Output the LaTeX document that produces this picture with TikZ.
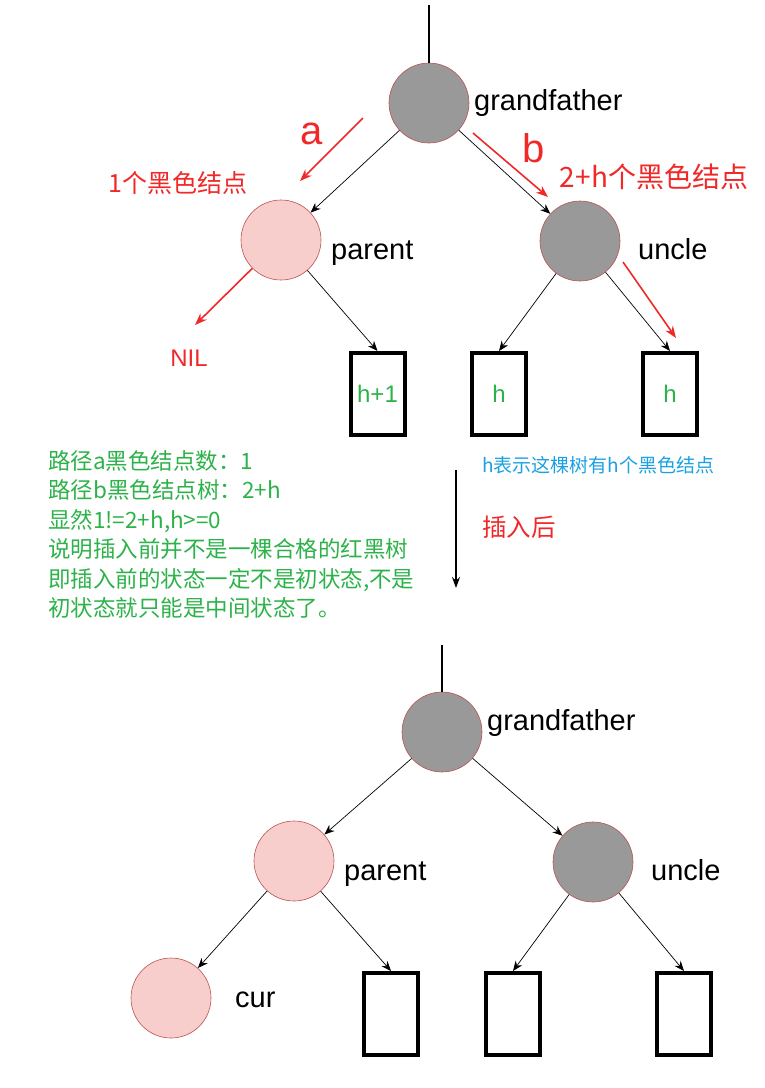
\documentclass[tikz,border=0pt]{standalone}
\usepackage{fontspec}
\setmainfont{Liberation Sans}
\newfontfamily\cjk{Noto Sans CJK SC}
\usetikzlibrary{arrows.meta}
\definecolor{nodegray}{HTML}{999999}
\definecolor{nodepink}{HTML}{F8CECC}
\definecolor{rimred}{HTML}{B85450}
\definecolor{notered}{HTML}{F02828}
\definecolor{notegreen}{HTML}{2DB24A}
\definecolor{noteblue}{HTML}{1BA1E2}

\begin{document}
\begin{tikzpicture}[x=1pt,y=-1pt,
  blacknode/.style={circle,draw=rimred,fill=nodegray,minimum size=80pt,inner sep=0pt,line width=0.6pt},
  rednode/.style={circle,draw=rimred,fill=nodepink,minimum size=80pt,inner sep=0pt,line width=0.6pt},
  subtree/.style={draw=black,line width=4pt,minimum width=54pt,minimum height=82pt,inner sep=0pt,text=notegreen,font=\fontsize{24}{24}\selectfont},
  tag/.style={anchor=base west,inner sep=0pt,font=\fontsize{29}{29}\selectfont},
  edge/.style={-{Stealth[length=10pt,width=8pt]},line width=0.7pt},
  redarr/.style={-{Stealth[length=12pt,width=9pt]},line width=1.6pt,draw=notered},
  note/.style={inner sep=0pt,text=notered}]
\useasboundingbox (0,0) rectangle (765,1088);

% before insertion
\coordinate (top) at (429,5);
\node[blacknode] (gf) at (429,103) {};
\node[rednode] (par) at (281,240) {};
\node[blacknode] (unc) at (580,241) {};
\node[subtree] (t1) at (377.5,394) {h+1};
\node[subtree] (t2) at (499,394) {\raisebox{-3pt}{h}};
\node[subtree] (t3) at (670,394) {h};
\node[tag] (gfname) at (474,110) {grandfather};
\node[tag] (parname) at (331,259) {parent};
\node[tag] (uncname) at (638,259) {uncle};
\node[note,font=\fontsize{24}{24}\selectfont] (nil) at (189,358) {NIL};
\draw[line width=1.2pt] (top) -- (gf);
\draw[edge] (gf) -- (par);
\draw[edge] (gf) -- (unc);
\draw[edge] (par) -- (t1.north);
\draw[edge] (unc) -- (t2.north);
\draw[edge] (unc) -- (t3.north);

% counted paths
\coordinate (a0) at (363,118);\coordinate (a1) at (300,181);
\coordinate (b0) at (473,133);\coordinate (b1) at (548,197);
\coordinate (n1) at (195,325);
\coordinate (c0) at (623,262);\coordinate (c1) at (676,338);
\draw[redarr] (a0) -- (a1);
\draw[redarr] (b0) -- (b1);
\draw[redarr] (par) -- (n1);
\draw[redarr] (c0) -- (c1);
\node[note,font=\fontsize{40}{40}\selectfont] (pa) at (312,134) {a};
\node[note,font=\fontsize{40}{40}\selectfont] (pb) at (534,148) {b};
\node[note,font=\cjk\fontsize{25}{25}\selectfont] (ca) at (178,183) {1个黑色结点};
\node[note,font=\cjk\fontsize{28}{28}\selectfont] (cb) at (654,177) {2+h个黑色结点};

% notes
\node[inner sep=0pt,anchor=north west,align=left,text=notegreen,font=\cjk\fontsize{22.5}{29.5}\selectfont] (why) at (48,450) {路径a黑色结点数：1\\路径b黑色结点树：2+h\\显然1!=2+h,h>=0\\说明插入前并不是一棵合格的红黑树\\即插入前的状态一定不是初状态,不是\\初状态就只能是中间状态了。};
\node[inner sep=0pt,anchor=west,text=noteblue,font=\cjk\fontsize{19}{19}\selectfont] (hnote) at (482,465) {h表示这棵树有h个黑色结点};
\coordinate (s0) at (456,470);\coordinate (s1) at (456,588);
\draw[-{Stealth[length=11pt,width=8pt]},line width=1.5pt] (s0) -- (s1);
\node[note,anchor=west,font=\cjk\fontsize{24.5}{24.5}\selectfont] (after) at (482,527) {插入后};

% after insertion
\coordinate (top2) at (442,645);
\node[blacknode] (gf2) at (442,732) {};
\node[rednode] (par2) at (294,861) {};
\node[blacknode] (unc2) at (593,862) {};
\node[rednode] (cur) at (171,998) {};
\node[subtree] (u1) at (391,1014) {};
\node[subtree] (u2) at (513,1014) {};
\node[subtree] (u3) at (684,1014) {};
\node[tag] (gfname2) at (487,730) {grandfather};
\node[tag] (parname2) at (344,880) {parent};
\node[tag] (uncname2) at (651,880) {uncle};
\node[tag] (curname) at (235,1007) {cur};
\draw[line width=1.2pt] (top2) -- (gf2);
\draw[edge] (gf2) -- (par2);
\draw[edge] (gf2) -- (unc2);
\draw[edge] (par2) -- (cur);
\draw[edge] (par2) -- (u1.north);
\draw[edge] (unc2) -- (u2.north);
\draw[edge] (unc2) -- (u3.north);
\end{tikzpicture}
\end{document}
